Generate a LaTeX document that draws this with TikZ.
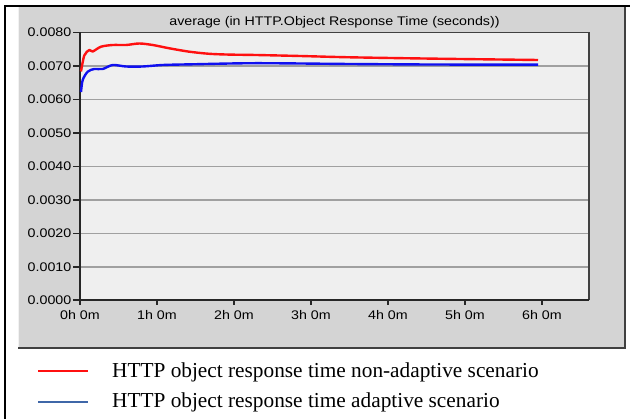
\documentclass[tikz,border=0pt]{standalone}
\usepackage{fontspec}
\setmainfont{Liberation Serif}
\newfontfamily\arialf[FakeStretch=1.14]{Liberation Sans}
\definecolor{panelgray}{HTML}{D4D4D4}
\definecolor{plotbg}{HTML}{EFEFEF}
\definecolor{gridgray}{HTML}{A0A0A0}
\definecolor{edgedark}{HTML}{404040}
\definecolor{curvered}{HTML}{FF1010}
\definecolor{curveblue}{HTML}{1010F0}
\definecolor{legblue}{HTML}{3F67A8}
\tikzset{
  axlabel/.style={font=\arialf\fontsize{12.5}{14}\selectfont, inner sep=0pt},
  legtext/.style={font=\fontsize{21.3}{24}\selectfont, inner sep=0pt, anchor=base west},
  gridline/.style={draw=gridgray, line width=1.2pt},
  curve/.style={line width=2.4pt, line join=round, line cap=butt},
}
\begin{document}
\begin{tikzpicture}[x=1pt,y=-1pt]
\useasboundingbox (0,0) rectangle (630,419);
\fill[white] (0,0) rectangle (630,419);
% outer frame
\draw[black, line width=2pt] (5,419) -- (5,6.5) -- (630,6.5);
% gray panel
\fill[panelgray] (18,7.5) rectangle (625,348);
\draw[white!90!gray, line width=1pt] (18.5,7.5) -- (18.5,348);
\draw[edgedark, line width=2pt] (18,348) -- (625,348) -- (625,7.5);
% plot area
\fill[plotbg] (80,32.5) rectangle (589,300);
\foreach \yy in {66,99.5,133,166.5,200,233.5,267}
  \draw[gridline] (80,\yy) -- (589,\yy);
\draw[edgedark, line width=1.5pt] (80,32.5) -- (589,32.5) -- (589,300);
\draw[black!85, line width=1.5pt] (80,32.5) -- (80,300) -- (589,300);
% title
\node[axlabel, anchor=base] (title) at (334.5,26) {average (in HTTP.Object Response Time (seconds))};
% y labels and ticks
\foreach \v/\yy [count=\i] in {0.0080/32.5,0.0070/66,0.0060/99.5,0.0050/133,0.0040/166.5,0.0030/200,0.0020/233.5,0.0010/267,0.0000/300}{
  \draw[black!85, line width=1.2pt] (73,\yy) -- (80,\yy);
  \node[axlabel, anchor=east] (yl\i) at (71.5,\yy) {\v};
}
% x labels and ticks
\foreach \h [count=\i] in {0,...,6}{
  \draw[black!85, line width=1.2pt] ({80+77*\h},300) -- ({80+77*\h},305);
  \node[axlabel, anchor=base] (xl\i) at ({80+77*\h},320) {\h h 0m};
}
% curves
\draw[curve, curvered] plot[smooth, tension=0.5] coordinates {
 (81,71.5) (84.3,55.5) (89.3,50) (92.7,51.5) (101,46.7) (112.7,45) (126,45)
 (139.3,43.5) (152.7,45) (169.3,48.3) (189.3,51.7) (209.3,53.8) (229.3,54.6)
 (256,55) (300,56) (350,57.3) (430,58.6) (538,60)};
\draw[curve, curveblue] plot[smooth, tension=0.5] coordinates {
 (81,92) (82.7,80) (87.7,71.7) (94.3,69) (102.7,69) (112.7,65) (126,66.5)
 (142.7,66.5) (162.7,65) (192.7,64.3) (256,63.2) (350,64) (430,64.5) (538,64.7)};
% legend
\coordinate (lr1) at (38,371);
\coordinate (lr2) at (88,371);
\coordinate (lb1) at (38,402);
\coordinate (lb2) at (88,402);
\draw[curvered, line width=2pt] (lr1) -- (lr2);
\draw[legblue, line width=2pt] (lb1) -- (lb2);
\node[legtext] (leg1) at (112,377.5) {HTTP object response time non-adaptive scenario};
\node[legtext] (leg2) at (112,408) {HTTP object response time adaptive scenario};
\end{tikzpicture}
\end{document}
